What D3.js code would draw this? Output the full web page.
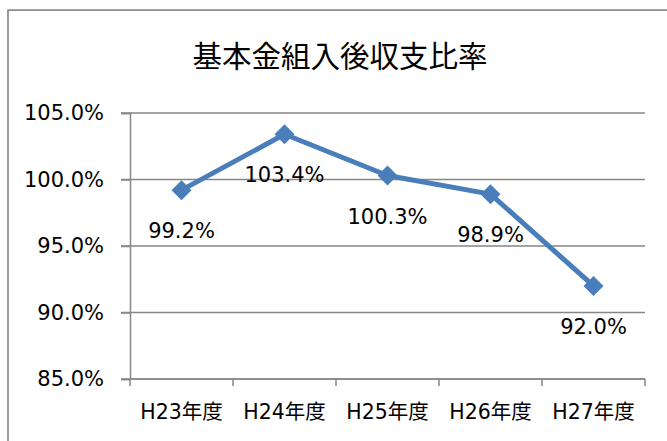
<!DOCTYPE html>
<html>
<head>
<meta charset="utf-8">
<script src="https://cdn.jsdelivr.net/npm/d3@7"></script>
<style>
  body { margin: 0; background: #fff; }
  text { font-family: "DejaVu Sans", "Noto Sans CJK JP", sans-serif; fill: #000; }
</style>
</head>
<body>
<script>
// 基本金組入後収支比率

var years = ['H23年度', 'H24年度', 'H25年度', 'H26年度', 'H27年度'],
    ratios = [99.2, 103.4, 100.3, 98.9, 92.0],
    yTicks = [85, 90, 95, 100, 105],
    title = '基本金組入後収支比率';

var width = 667,
    height = 441,
    margin = {left: 130, right: 22, top: 113, bottom: 62},
    innerWidth = width - margin.left - margin.right,
    innerHeight = height - margin.top - margin.bottom,
    lineColor = '#4a7ebb',
    gridColor = '#868686';

var svg = d3.select('body').append('svg')
  .attr('width', width)
  .attr('height', height);

// chart frame: only its left and top edges are inside the picture
svg.append('path')
  .attr('d', 'M8,' + height + 'V10H' + width)
  .attr('fill', 'none')
  .attr('stroke', '#8c8c8c')
  .attr('stroke-width', 1.75);

svg.append('text')
  .attr('x', 340).attr('y', 67)
  .attr('text-anchor', 'middle')
  .style('font-family', '"Noto Sans CJK JP", sans-serif')
  .style('font-size', '29.5px')
  .text(title);

var g = svg.append('g')
  .attr('transform', 'translate(' + margin.left + ',' + margin.top + ')');

var xScale = d3.scaleBand().domain(years).range([0, innerWidth]);
var yScale = d3.scaleLinear().domain([85, 105]).range([innerHeight, 0]);

// gridlines
g.selectAll('.grid').data(yTicks).enter().append('line')
  .attr('x1', -9).attr('x2', innerWidth)
  .attr('y1', function(d){ return yScale(d); })
  .attr('y2', function(d){ return yScale(d); })
  .attr('stroke', gridColor)
  .attr('stroke-width', 1.5);

// y axis
var yAxis = g.append('g')
  .call(d3.axisLeft(yScale).tickValues(yTicks).tickSize(9).tickPadding(17)
    .tickFormat(function(d){ return d.toFixed(1) + '%'; }));
yAxis.select('.domain').attr('stroke', gridColor).attr('stroke-width', 1.5);
yAxis.selectAll('line').attr('stroke', gridColor).attr('stroke-width', 1.5);
yAxis.selectAll('text').style('font-size', '21px').attr('fill', '#000');

// x axis with ticks at band edges
var xAxis = g.append('g')
  .attr('transform', 'translate(0,' + innerHeight + ')');
xAxis.append('line')
  .attr('x1', 0).attr('x2', innerWidth)
  .attr('stroke', gridColor).attr('stroke-width', 1.5);
var edges = years.map(function(d){ return xScale(d); }).concat([innerWidth]);
xAxis.selectAll('.tk').data(edges).enter().append('line')
  .attr('x1', function(d){ return d; }).attr('x2', function(d){ return d; })
  .attr('y1', 0).attr('y2', 7)
  .attr('stroke', gridColor).attr('stroke-width', 1.5);
xAxis.selectAll('.lbl').data(years).enter().append('text')
  .attr('x', function(d){ return xScale(d) + xScale.bandwidth() / 2; })
  .attr('y', 40)
  .attr('text-anchor', 'middle')
  .style('font-size', '20.5px')
  .text(function(d){ return d; });

var cx = function(d, i){ return xScale(years[i]) + xScale.bandwidth() / 2; };

var line = d3.line()
  .x(function(d, i){ return cx(d, i); })
  .y(function(d){ return yScale(d); });

g.append('path')
  .datum(ratios)
  .attr('d', line)
  .attr('fill', 'none')
  .attr('stroke', lineColor)
  .attr('stroke-width', 5)
  .attr('stroke-linejoin', 'round');

// diamond markers
var r = 10;
g.selectAll('.mk').data(ratios).enter().append('path')
  .attr('transform', function(d, i){ return 'translate(' + cx(d, i) + ',' + yScale(d) + ')'; })
  .attr('d', 'M0,' + (-r) + 'L' + r + ',0L0,' + r + 'L' + (-r) + ',0Z')
  .attr('fill', lineColor);

// data labels
g.selectAll('.dl').data(ratios).enter().append('text')
  .attr('x', function(d, i){ return cx(d, i); })
  .attr('y', function(d){ return yScale(d) + 48; })
  .attr('text-anchor', 'middle')
  .style('font-size', '21px')
  .text(function(d){ return d.toFixed(1) + '%'; });
</script>
</body>
</html>
